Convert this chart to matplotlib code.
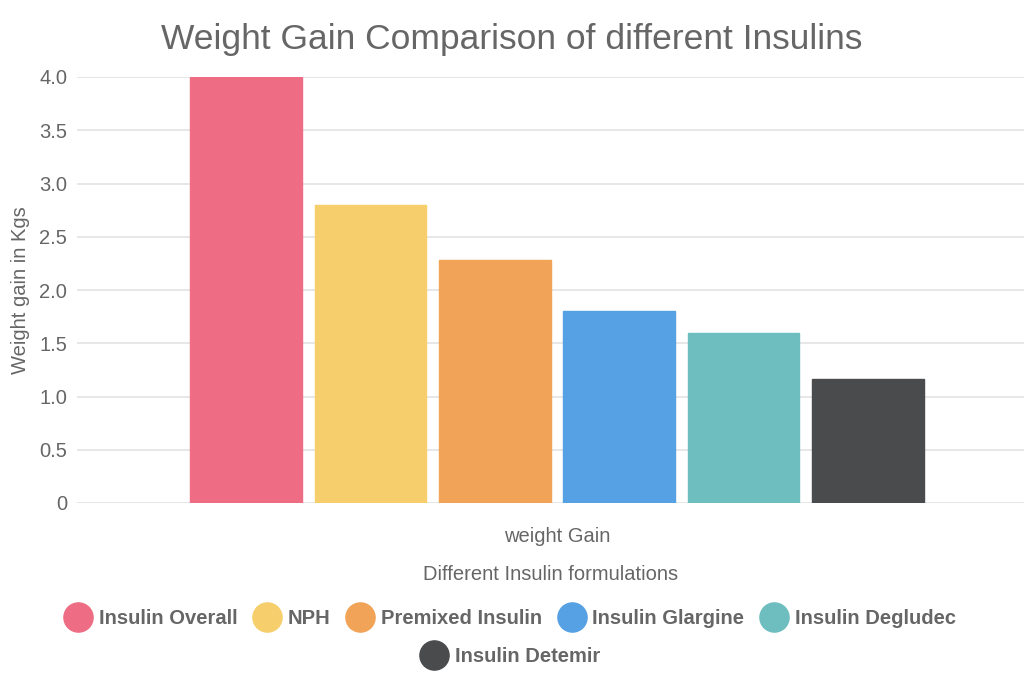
import matplotlib.pyplot as plt
from matplotlib.lines import Line2D
import numpy as np

plt.rcParams['font.family'] = ['Liberation Sans', 'DejaVu Sans']

# data
category = 'weight Gain'
insulins = ['Insulin Overall', 'NPH', 'Premixed Insulin', 'Insulin Glargine',
            'Insulin Degludec', 'Insulin Detemir']
weight_gain = [4.0, 2.8, 2.28, 1.8, 1.6, 1.16]
colors = ['#EE6D84', '#F6CF6C', '#F1A357', '#56A1E3', '#6EBEBF', '#4A4B4D']
y_ticks = [0, 0.5, 1.0, 1.5, 2.0, 2.5, 3.0, 3.5, 4.0]
y_tick_labels = ['0', '0.5', '1.0', '1.5', '2.0', '2.5', '3.0', '3.5', '4.0']

txt = '#666666'
fig = plt.figure(figsize=(10.24, 6.83), dpi=100)
ax = fig.add_axes([77 / 1024, 1 - 503 / 683, 947 / 1024, (503 - 77) / 683])

n = len(insulins)
slot = 0.8 / n
for i, (name, val, c) in enumerate(zip(insulins, weight_gain, colors)):
    x = -0.4 + slot * (i + 0.5)
    ax.bar(x, val, width=slot * 0.9, color=c, edgecolor=c, linewidth=1, label=name, zorder=3)

ax.set_xlim(-0.5147, 0.5008)
ax.set_ylim(0, 4.0)
ax.set_yticks(y_ticks)
ax.set_yticklabels(y_tick_labels)
ax.set_xticks([0.0])
ax.set_xticklabels([category])
ax.tick_params(axis='y', length=0, pad=7, labelsize=14.5, labelcolor=txt)
ax.tick_params(axis='x', length=0, pad=17, labelsize=14.5, labelcolor=txt)
ax.grid(axis='y', color='#e5e5e5', linewidth=1.3, zorder=0)
for s in ax.spines.values():
    s.set_visible(False)
ax.set_axisbelow(True)

ax.set_ylabel('Weight gain in Kgs', fontsize=14.5, color=txt, labelpad=7)
ax.set_xlabel('Different Insulin formulations', fontsize=14.5, color=txt, labelpad=14)
fig.text(512 / 1024, 1 - 39 / 683, 'Weight Gain Comparison of different Insulins',
         ha='center', va='center', fontsize=25.5, color=txt)

handles = [Line2D([], [], marker='o', linestyle='none', markersize=21,
                  markerfacecolor=c, markeredgecolor=c) for c in colors]
leg_kw = dict(frameon=False, handletextpad=0.3, columnspacing=0.75, handlelength=1.45,
              prop={'weight': 'bold', 'size': 14.5}, labelcolor=txt, loc='center')
fig.legend(handles[:5], insulins[:5], ncol=5, bbox_to_anchor=(509.5 / 1024, 1 - 619 / 683), **leg_kw)
fig.legend(handles[5:], insulins[5:], ncol=1, bbox_to_anchor=(510 / 1024, 1 - 657 / 683), **leg_kw)

fig.savefig('out.png', dpi=100, facecolor='white')
